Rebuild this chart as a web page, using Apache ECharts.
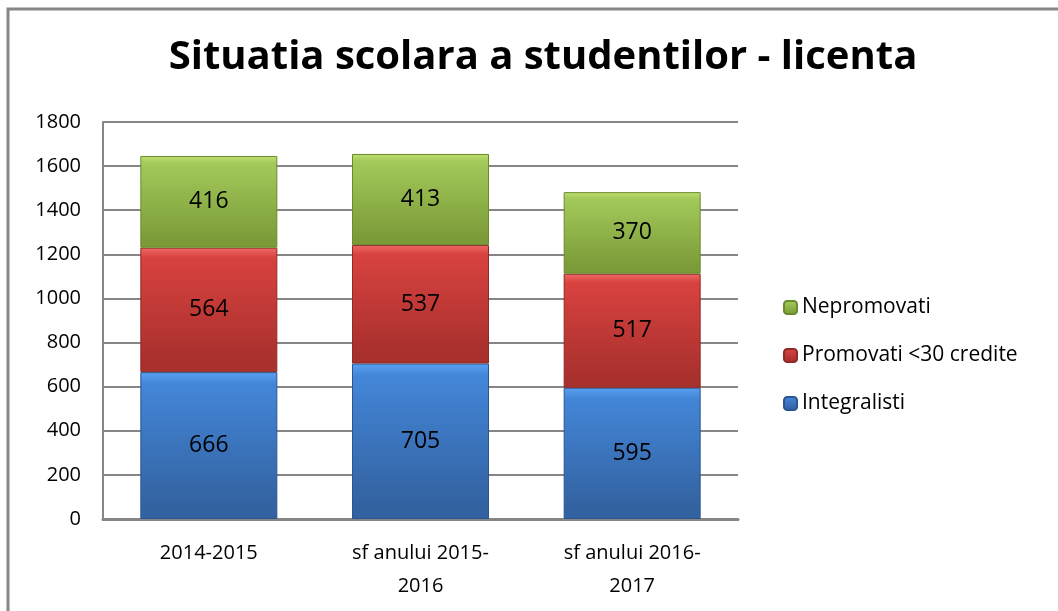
<!DOCTYPE html>
<html lang="ro">
<head>
    <meta charset="UTF-8">
    <title>Situatia scolara a studentilor - licenta</title>
    <script src="https://cdn.jsdelivr.net/npm/echarts@6/dist/echarts.min.js"></script>
    <style>
        html, body { margin: 0; padding: 0; background: #fff; }
    </style>
</head>
<body>
<div id="chart" style="width: 1058px;height:611px;"></div>
<script>
    // date
    var categorii = ['2014-2015', 'sf anului 2015-\n2016', 'sf anului 2016-\n2017'];
    var integralisti = [666, 705, 595];
    var promovati = [564, 537, 517];
    var nepromovati = [416, 413, 370];
    var yTicks = [0, 200, 400, 600, 800, 1000, 1200, 1400, 1600, 1800];

    var font = "'Open Sans', 'Liberation Sans', sans-serif";

    function grad(top, mid, bottom) {
        return new echarts.graphic.LinearGradient(0, 0, 0, 1, [
            { offset: 0, color: top },
            { offset: 0.08, color: mid },
            { offset: 0.92, color: bottom },
            { offset: 1, color: bottom }
        ]);
    }

    function serie(nume, date, culoare, margine) {
        return {
            name: nume,
            type: 'bar',
            stack: 'total',
            barWidth: 137,
            data: date,
            itemStyle: {
                color: culoare,
                borderColor: margine,
                borderWidth: 1
            },
            label: {
                show: true,
                position: 'inside',
                color: '#000',
                fontSize: 23,
                fontFamily: font
            }
        };
    }

    var myChart = echarts.init(document.getElementById('chart'));
    myChart.setOption({
        animation: false,
        graphic: [{
            type: 'rect',
            shape: { x: 8, y: 9, width: 1060, height: 620 },
            style: { fill: 'none', stroke: '#868686', lineWidth: 3 }
        }],
        title: {
            text: 'Situatia scolara a studentilor - licenta',
            left: 538,
            top: 33,
            textAlign: 'center',
            textStyle: {
                fontFamily: font,
                fontWeight: 'bold',
                fontSize: 40,
                color: '#000'
            }
        },
        legend: {
            orient: 'vertical',
            left: 778,
            top: 292,
            itemGap: 27,
            itemWidth: 13,
            itemHeight: 13,
            textStyle: { fontFamily: font, fontSize: 21, color: '#000' },
            data: ['Nepromovati', 'Promovati <30 credite', 'Integralisti']
        },
        grid: {
            left: 103,
            right: 1058 - 738,
            top: 122,
            bottom: 611 - 519
        },
        xAxis: {
            type: 'category',
            data: categorii,
            axisLine: { lineStyle: { color: '#868686', width: 3 } },
            axisTick: { show: false },
            axisLabel: {
                fontFamily: font,
                fontSize: 20,
                color: '#000',
                margin: 18,
                lineHeight: 33
            }
        },
        yAxis: {
            type: 'value',
            min: yTicks[0],
            max: yTicks[yTicks.length - 1],
            interval: 200,
            axisLine: { show: true, lineStyle: { color: '#868686', width: 2 } },
            axisTick: { show: false },
            splitLine: { lineStyle: { color: '#868686', width: 2 } },
            axisLabel: {
                fontFamily: font,
                fontSize: 20,
                color: '#000',
                margin: 22,
                formatter: function (v) { return String(v); }
            }
        },
        series: [
            serie('Integralisti', integralisti, grad('#5aa0f0', '#4386d8', '#3362a0'), '#2a5590'),
            serie('Promovati <30 credite', promovati, grad('#ee6a66', '#d8423f', '#a8302d'), '#8e2a27'),
            serie('Nepromovati', nepromovati, grad('#c0e070', '#a3c95a', '#7b9b38'), '#6a8a2e')
        ]
    });
</script>
</body>
</html>
